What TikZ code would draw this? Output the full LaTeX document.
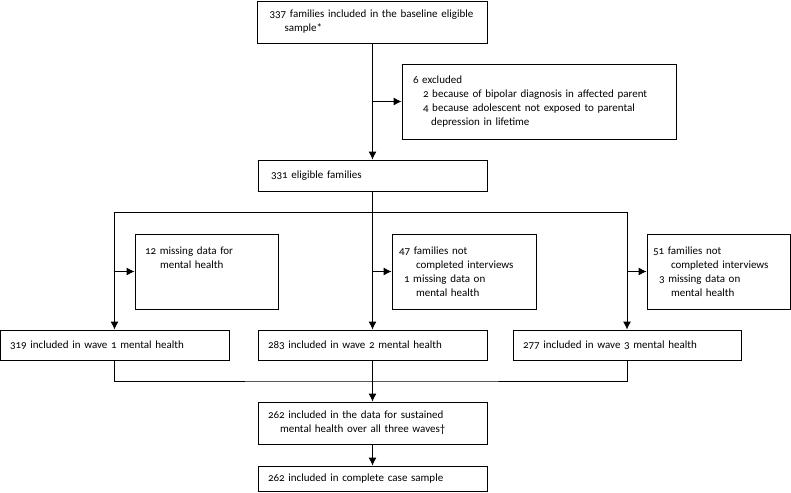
\documentclass[tikz,border=0pt]{standalone}
\usepackage{fontspec}
\setmainfont{Carlito}[Numbers=OldStyle,WordSpace=0.7]
\usetikzlibrary{arrows.meta}
\tikzset{
	box/.style={draw, line width=0.9pt, align=left, inner ysep=0pt},
	arr/.style={line width=0.9pt, -{Latex[length=8pt,width=8pt]}},
	ln/.style={line width=0.9pt}
}

\begin{document}
\begin{tikzpicture}[x=1pt,y=-1pt,font=\fontsize{11}{14}\selectfont]
		\useasboundingbox (0,0) rectangle (791,492);
		% main column
		\node[box, minimum height=42pt, text width=206pt, inner xsep=12pt] (base) at (372.5,22) {337 families included in the baseline eligible\\\hspace*{15pt}sample*};
		\node[box, minimum height=75pt, text width=252pt, inner xsep=11pt] (excl) at (539,101.5) {6 excluded\\\hspace*{10pt}2 because of bipolar diagnosis in affected parent\\\hspace*{10pt}4 because adolescent not exposed to parental\\\hspace*{18pt}depression in lifetime};
		\node[box, minimum height=31pt, text width=203pt, inner xsep=13pt] (elig) at (372.5,175.5) {331 eligible families};
		% missing data
		\node[box, minimum height=75pt, text width=123pt, inner xsep=10pt] (miss1) at (206.5,271.5) {12 missing data for\\\hspace*{15pt}mental health\\~\\~};
		\node[box, minimum height=75pt, text width=130pt, inner xsep=7pt] (miss2) at (464,271.5) {47 families not\\\hspace*{17pt}completed interviews\\\hspace*{5pt}1 missing data on\\\hspace*{17pt}mental health};
		\node[box, minimum height=75pt, text width=131pt, inner xsep=6pt] (miss3) at (718.5,271.5) {51 families not\\\hspace*{18pt}completed interviews\\\hspace*{6pt}3 missing data on\\\hspace*{18pt}mental health};
		% waves
		\node[box, minimum height=30pt, text width=209pt, inner xsep=10pt] (wave1) at (114.5,345) {319 included in wave 1 mental health};
		\node[box, minimum height=30pt, text width=209pt, inner xsep=10pt] (wave2) at (372.5,345) {283 included in wave 2 mental health};
		\node[box, minimum height=30pt, text width=208pt, inner xsep=10pt] (wave3) at (627,345) {277 included in wave 3 mental health};
		% final samples
		\node[box, minimum height=42pt, text width=209pt, inner xsep=10pt] (sust) at (372.5,423) {262 included in the data for sustained\\\hspace*{12pt}mental health over all three waves\textdagger};
		\node[box, minimum height=25pt, text width=209pt, inner xsep=10pt] (final) at (372.5,478.5) {262 included in complete case sample};
		\coordinate (split) at (372.5,212);
		\coordinate (join) at (372.5,381);
		\coordinate (out) at (base.south |- excl.west);
		\draw[arr] (base.south) -- (elig.north);
		\draw[arr] (out) -- (excl.west);
		\draw[ln] (elig.south) -- (split);
		\draw[ln] (wave1.north |- split) -- (wave3.north |- split);
		\draw[arr] (wave1.north |- split) -- (wave1.north);
		\draw[arr] (split) -- (wave2.north);
		\draw[arr] (wave3.north |- split) -- (wave3.north);
		\draw[arr] (wave1.north |- miss1.west) -- (miss1.west);
		\draw[arr] (wave2.north |- miss2.west) -- (miss2.west);
		\draw[arr] (wave3.north |- miss3.west) -- (miss3.west);
		\draw[ln] (wave1.south) |- (join) -| (wave3.south);
		\draw[ln] (wave2.south) -- (join);
		\draw[arr] (join) -- (sust.north);
		\draw[arr] (sust.south) -- (final.north);
\end{tikzpicture}
\end{document}
